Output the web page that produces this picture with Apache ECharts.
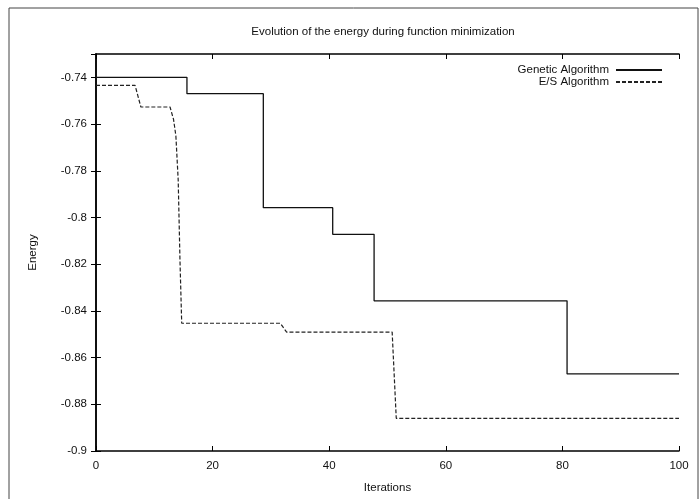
<!DOCTYPE html>
<html>
<head>
<meta charset="utf-8">
<script src="https://cdn.jsdelivr.net/npm/echarts@6/dist/echarts.min.js"></script>
<style>
html,body{margin:0;padding:0;background:#fff;}
#c{width:699px;height:499px;}
</style>
</head>
<body>
<div id="c"></div>
<script>
// Data
var titleText = 'Evolution of the energy during function minimization';
var xName = 'Iterations';
var yName = 'Energy';
var seriesNames = ['Genetic Algorithm', 'E/S Algorithm'];

var geneticX = [0, 15.6, 15.6, 28.7, 28.7, 40.6, 40.6, 47.7, 47.7, 80.8, 80.8, 100];
var geneticY = [-0.74, -0.74, -0.747, -0.747, -0.7958, -0.7958, -0.8072, -0.8072, -0.8357, -0.8357, -0.867, -0.867];

var esX = [0, 6.7, 7.7, 12.7, 13.3, 13.7, 14.1, 14.4, 14.7, 31.6, 32.7, 50.8, 51.5, 100];
var esY = [-0.7434, -0.7434, -0.7527, -0.7527, -0.758, -0.765, -0.784, -0.818, -0.8453, -0.8453, -0.8491, -0.8491, -0.886, -0.886];

var xMin = 0, xMax = 100, xStep = 20;
var yMin = -0.9, yMax = -0.73, yStep = 0.02;

function pairs(xs, ys) { return xs.map(function (x, i) { return [x, ys[i]]; }); }

var font = '"Liberation Sans", Arial, Helvetica, sans-serif';
var chart = echarts.init(document.getElementById('c'), null, {renderer: 'canvas'});

var axisLine = {show: true, lineStyle: {color: '#000', width: 1.5}};
var tick = {show: true, inside: true, length: 5, lineStyle: {color: '#000', width: 1}};

chart.setOption({
  animation: false,
  backgroundColor: '#fff',
  textStyle: {fontFamily: font},
  grid: {left: 96, right: 20, top: 54, bottom: 47, containLabel: false},
  graphic: [
    {type: 'rect', shape: {x: 9, y: 8, width: 689, height: 500}, style: {fill: 'none', stroke: '#444', lineWidth: 1}, silent: true, z: -1},
    {type: 'text', x: 383, y: 32, style: {text: titleText, fontFamily: font, fontSize: 11.5, fill: '#111', textAlign: 'center', textVerticalAlign: 'middle'}}
  ],
  legend: {
    orient: 'vertical', right: 31, top: 59, align: 'right',
    itemWidth: 46, itemHeight: 8, itemGap: 0,
    itemStyle: {opacity: 0},
    textStyle: {fontFamily: font, fontSize: 11.5, color: '#111', padding: [0, 2, 0, 0]},
    data: seriesNames
  },
  xAxis: [{
    type: 'value', min: xMin, max: xMax, interval: xStep,
    name: xName, nameLocation: 'middle', nameGap: 31,
    nameTextStyle: {fontFamily: font, fontSize: 11.5, color: '#111'},
    axisLine: axisLine, axisTick: tick,
    axisLabel: {color: '#111', fontSize: 11.5, fontFamily: font, margin: 9},
    splitLine: {show: false}
  }, {
    type: 'value', position: 'top', min: xMin, max: xMax, interval: xStep,
    axisLine: axisLine, axisTick: tick, axisLabel: {show: false}, splitLine: {show: false}
  }],
  yAxis: [{
    type: 'value', min: yMin, max: yMax, interval: yStep,
    name: yName, nameLocation: 'middle', nameGap: 57, nameRotate: 90,
    nameTextStyle: {fontFamily: font, fontSize: 11.5, color: '#111'},
    axisLine: axisLine, axisTick: tick,
    axisLabel: {color: '#111', fontSize: 11.5, fontFamily: font, margin: 9, showMaxLabel: false,
      formatter: function (v) { return String(parseFloat(v.toFixed(2))); }},
    splitLine: {show: false}
  }, {
    type: 'value', position: 'right', min: yMin, max: yMax, interval: yStep,
    axisLine: axisLine, axisTick: tick, axisLabel: {show: false}, splitLine: {show: false}
  }],
  series: [{
    name: seriesNames[0], type: 'line', symbol: 'none', showSymbol: false,
    xAxisIndex: 0, yAxisIndex: 0,
    lineStyle: {color: '#111', width: 1.3, type: 'solid'},
    itemStyle: {color: '#111'},
    data: pairs(geneticX, geneticY)
  }, {
    name: seriesNames[1], type: 'line', symbol: 'none', showSymbol: false,
    xAxisIndex: 0, yAxisIndex: 0,
    lineStyle: {color: '#222', width: 1.2, type: [4, 2]},
    itemStyle: {color: '#222'},
    data: pairs(esX, esY)
  }]
});
</script>
</body>
</html>
